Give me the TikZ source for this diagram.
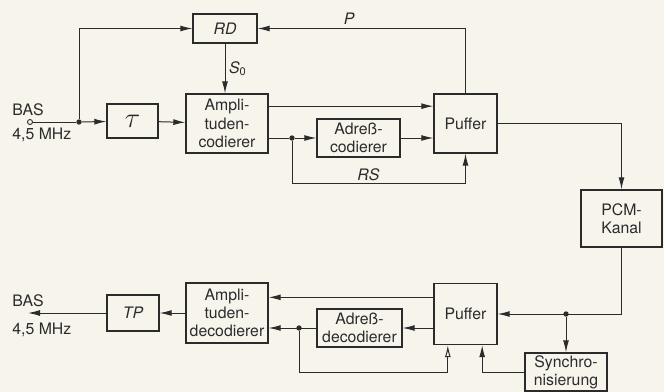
\documentclass[tikz,border=0pt]{standalone}
\usepackage{fontspec}
\setmainfont{TeX Gyre Heros}
\usetikzlibrary{arrows.meta,calc}
\definecolor{PCMInk}{HTML}{2B2B2B}
\definecolor{PCMPaper}{HTML}{F7F4EC}

\tikzset{
  blk/.style={draw=PCMInk,line width=1.2pt,inner sep=0pt,align=center,
    font=\fontsize{13.5pt}{15.5pt}\selectfont,text=PCMInk},
  wire/.style={draw=PCMInk,line width=0.85pt},
  sig/.style={wire,-{Latex[length=3.6mm,width=1.8mm]}},
  sigopen/.style={wire,-{Latex[open,length=3.6mm,width=1.8mm]}},
  dot/.style={circle,fill=PCMInk,inner sep=0pt,minimum size=1.6mm},
  lbl/.style={font=\fontsize{13.5pt}{15.5pt}\selectfont,text=PCMInk,inner sep=1pt}
}

\begin{document}
\begin{tikzpicture}[x=0.03cm,y=-0.03cm]
\path[use as bounding box] (0,0) rectangle (664,392);
\fill[PCMPaper] (0,0) rectangle (664,392);

% Coder
\node[blk,minimum width=1.92cm,minimum height=0.87cm] (rd) at (225,28.5) {\itshape RD};
\node[blk,minimum width=1.53cm,minimum height=1.02cm] (tau) at (132.5,121) {\scalebox{1.7}{$\tau$}};
\node[blk,minimum width=2.46cm,minimum height=1.77cm] (ampenc) at (227,123.5) {Ampli-\\tuden-\\codierer};
\node[blk,minimum width=2.49cm,minimum height=1.14cm] (adrenc) at (358.5,138) {Adreß-\\codierer};
\node[blk,minimum width=1.89cm,minimum height=1.77cm] (pufenc) at (465.5,123.5) {Puffer};
\node[blk,minimum width=2.43cm,minimum height=1.71cm] (pcm) at (621.5,218.5) {PCM-\\Kanal};

% Decoder
\node[blk,minimum width=1.89cm,minimum height=1.83cm] (pufdec) at (465.5,314) {Puffer};
\node[blk,minimum width=2.55cm,minimum height=1.14cm] (adrdec) at (359.5,328) {Adreß-\\decodierer};
\node[blk,minimum width=2.46cm,minimum height=1.80cm] (ampdec) at (227,313) {Ampli-\\tuden-\\decodierer};
\node[blk,minimum width=1.56cm,minimum height=1.08cm] (tp) at (133,313) {\itshape TP};
\node[blk,minimum width=2.46cm,minimum height=1.14cm] (sync) at (566,372) {Synchro-\\nisierung};

% Ein- und Ausgang
\node[circle,draw=PCMInk,line width=0.75pt,fill=PCMPaper,inner sep=0pt,minimum size=1.5mm] (in) at (30,122) {};
\node[lbl,anchor=west] (basin) at (11,110) {BAS};
\node[lbl,anchor=west] (fin) at (11,135) {4,5 MHz};
\coordinate (out) at (28,313);
\node[lbl,anchor=west] (basout) at (11,301) {BAS};
\node[lbl,anchor=west] (fout) at (11,330) {4,5 MHz};

% Knoten
\node[dot] (j1) at (79,122) {};
\node[dot] (j2) at (292,138) {};
\node[dot] (j3) at (566,314) {};
\node[dot] (j4) at (299,328) {};

\coordinate (a1) at ([yshift=0.52cm]ampenc.east);
\coordinate (b1) at ([yshift=0.5cm]pufdec.west);
\coordinate (c1) at ([xshift=-0.53cm]pufdec.south);
\coordinate (c2) at ([xshift=0.5cm]pufdec.south);

% Verbindungen Coder
\draw[wire] (in) -- (j1);
\draw[sig] (j1) -- (tau);
\draw[sig] (j1) |- (rd.west);
\draw[sig] (tau) -- (ampenc);
\draw[sig] (rd.south) -- node[lbl,right=2pt] (s0) {\itshape S\textsubscript{\upshape 0}} (rd.south |- ampenc.north);
\draw[sig] (a1) -- (a1 -| pufenc.west);
\draw[wire] (ampenc.east |- j2) -- (j2);
\draw[sig] (j2) -- (adrenc.west);
\draw[sig] (adrenc.east) -- (adrenc.east -| pufenc.west);
\draw[sig] (j2) |- node[lbl,pos=0.72,above=1pt] (rs) {\itshape RS} ([yshift=-0.9cm]pufenc.south) -- (pufenc.south);
\draw[sig] (pufenc.north) |- node[lbl,pos=0.78,above=2pt] (p) {\itshape P} (rd.east);
\draw[sig] (pufenc.east) -| (pcm.north);

% Verbindungen Decoder
\draw[sig] (pcm.south) |- (pufdec.east);
\draw[sig] (j3) -- (sync.north);
\draw[sig] (sync.west) -| (c2);
\draw[sig] (b1) -- (b1 -| ampdec.east);
\draw[sig] (pufdec.west |- adrdec) -- (adrdec.east);
\draw[sig] (adrdec.west) -- (adrdec.west -| ampdec.east);
\draw[sigopen] (j4) |- (c1 |- sync.west) -- (c1);
\draw[sig] (ampdec.west) -- (ampdec.west -| tp.east);
\draw[sig] (tp.west) -- (out);
\end{tikzpicture}
\end{document}
